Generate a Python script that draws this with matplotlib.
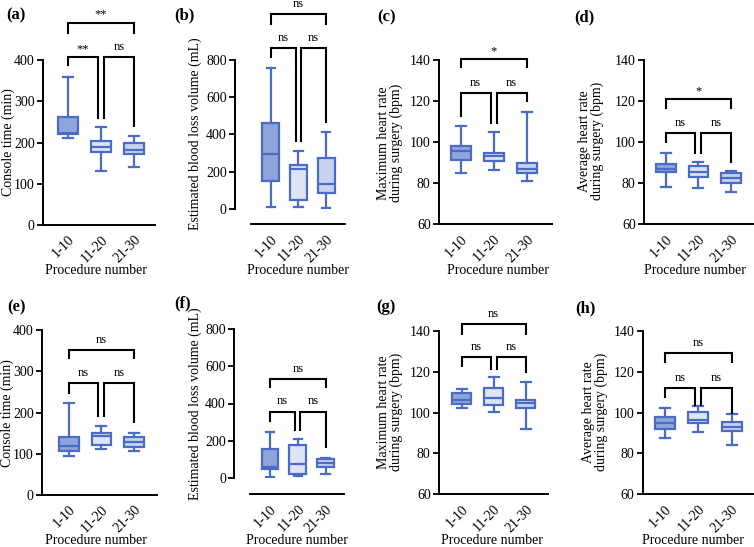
import numpy as np
import matplotlib
matplotlib.use("Agg")
import matplotlib.pyplot as plt

plt.rcParams['font.family'] = 'Liberation Serif'
plt.rcParams['font.size'] = 10

# categories
groups = ['1-10', '11-20', '21-30']

# box stats per group: [whisker low, Q1, median, Q3, whisker high]
console_a = [[210, 220, 224, 262, 360], [131, 178, 190, 204, 237], [140, 172, 183, 200, 216]]
ebl_b = [[9, 149, 294, 459, 758], [9, 45, 212, 235, 310], [5, 86, 131, 274, 412]]
maxhr_c = [[84.8, 91.1, 95.5, 98.0, 107.8], [86.4, 91.0, 93.2, 94.5, 104.8], [81.0, 85.1, 87.0, 90.0, 114.5]]
avghr_d = [[78.3, 85.6, 87.0, 89.3, 94.8], [77.5, 83.2, 85.6, 88.4, 90.2], [75.9, 80.2, 82.7, 84.8, 86.1]]
console_e = [[95, 107, 120, 140, 222], [111, 121, 143, 150, 167], [107, 116, 128, 140, 150]]
ebl_f = [[6, 45, 55, 155, 248], [8, 18, 75, 176, 207], [18, 56, 78, 99, 108]]
maxhr_g = [[102.0, 104.2, 106.1, 109.4, 111.5], [100.4, 103.7, 107.0, 111.8, 117.5], [91.9, 102.4, 104.5, 106.1, 115.1]]
avghr_h = [[87.7, 91.8, 94.7, 97.6, 102.4], [90.6, 94.7, 96.3, 100.4, 103.2], [84.1, 91.1, 93.1, 95.5, 99.3]]

# significance: (1 vs 2, 2 vs 3, 1 vs 3)
sig_a = ['**', 'ns', '**']
sig_b = ['ns', 'ns', 'ns']
sig_c = ['ns', 'ns', '*']
sig_d = ['ns', 'ns', '*']
sig_e = ['ns', 'ns', 'ns']
sig_f = ['ns', 'ns', 'ns']
sig_g = ['ns', 'ns', 'ns']
sig_h = ['ns', 'ns', 'ns']

# bracket heights: low line, top line, top legs end, [leg ends g1, g2, g3]
brk_a = (407, 490, 465, [388, 260, 240])
brk_b = (862, 1045, 991, [817, 364, 468])
brk_c = (123.7, 140.4, 136.7, [112.7, 109.4, 120])
brk_d = (104.3, 120.8, 116.4, [99.9, 94.8, 90.5])
brk_e = (271, 351.5, 331, [246.5, 192, 176])
brk_f = (356, 532, 487, [307, 257, 164])
brk_g = (127.3, 143.3, 138.4, [122.9, 121.1, 120])
brk_h = (112.1, 129, 124.5, [107.7, 103.7, 99.6])

edge = '#4a6cc4'
fills = ['#8ea4da', '#dde4f5', '#c7d3ef']

W, H = 754, 547
fig = plt.figure(figsize=(W / 100, H / 100), dpi=100)


def draw_panel(stats, sig, brk, ylims, step, lay, offset=None):
    # lay: y-axis px, first category px, px per category, right end px, top px, bottom px
    x0, c1, s, xr, ytop, ybot = lay
    ax = fig.add_axes([x0 / W, 1 - ybot / H, (xr - x0) / W, (ybot - ytop) / H])
    bxs = [dict(whislo=v[0], q1=v[1], med=v[2], q3=v[3], whishi=v[4], fliers=[]) for v in stats]
    lw = 1.6
    res = ax.bxp(bxs, positions=[1, 2, 3], widths=0.6, capwidths=0.3, patch_artist=True,
                 showfliers=False,
                 boxprops=dict(edgecolor=edge, linewidth=lw),
                 whiskerprops=dict(color=edge, linewidth=lw),
                 capprops=dict(color=edge, linewidth=lw),
                 medianprops=dict(color=edge, linewidth=lw))
    for patch, fc in zip(res['boxes'], fills):
        patch.set_facecolor(fc)

    xlim = (1 - (c1 - x0) / s, 1 + (xr - c1) / s)
    for sp in ['top', 'right']:
        ax.spines[sp].set_visible(False)
    for sp in ['left', 'bottom']:
        ax.spines[sp].set_linewidth(1.4)
    if offset is not None:
        # detached x axis
        ax.spines['bottom'].set_position(('outward', offset))
        ax.spines['bottom'].set_bounds(1 - (c1 - (x0 + 16)) / s, xlim[1])

    ax.set_xlim(*xlim)
    ax.set_ylim(*ylims)
    ax.set_yticks(np.arange(ylims[0], ylims[1] + 1, step))
    ax.set_xticks([1, 2, 3])
    ax.set_xticklabels(groups, rotation=45, ha='right', rotation_mode='anchor')
    ax.tick_params(axis='x', length=0, pad=6, labelsize=10)
    ax.tick_params(axis='y', length=4, width=1.3, labelsize=10, pad=2)

    # significance brackets
    low, top, top_end, ends = brk
    dx = 0.09
    kw = dict(color='black', lw=1.5, clip_on=False, solid_joinstyle='miter')
    ax.plot([1, 1, 2 - dx, 2 - dx], [ends[0], low, low, ends[1]], **kw)
    ax.plot([2 + dx, 2 + dx, 3, 3], [ends[1], low, low, ends[2]], **kw)
    ax.plot([1, 1, 3, 3], [top_end, top, top, top_end], **kw)
    for xm, yl, lab in [((1 + 2 - dx) / 2, low, sig[0]), ((2 + dx + 3) / 2, low, sig[1]), (2, top, sig[2])]:
        off = 3 if lab == 'ns' else 1.5
        ax.annotate(lab, (xm, yl), xytext=(0, off), textcoords='offset points',
                    ha='center', va='bottom', fontsize=9, annotation_clip=False)
    return ax


# layout in pixels
lay_a = (43, 68, 33, 155, 60, 225)
lay_b = (235, 270.7, 27.8, 345, 60, 208.7)
lay_c = (439, 460.7, 33, 552, 60, 224.3)
lay_d = (644, 665.7, 32.7, 753, 60, 224.3)
lay_e = (42, 68.7, 32.7, 156.7, 330, 495)
lay_f = (234.3, 270, 27.8, 344.3, 329.3, 477.7)
lay_g = (439, 461.7, 32, 548, 330.7, 494.3)
lay_h = (642.7, 665, 33.3, 753, 330.7, 494.3)

draw_panel(console_a, sig_a, brk_a, (0, 400), 100, lay_a)
draw_panel(ebl_b, sig_b, brk_b, (0, 800), 200, lay_b, offset=11.2)
draw_panel(maxhr_c, sig_c, brk_c, (60, 140), 20, lay_c)
draw_panel(avghr_d, sig_d, brk_d, (60, 140), 20, lay_d)
draw_panel(console_e, sig_e, brk_e, (0, 400), 100, lay_e)
draw_panel(ebl_f, sig_f, brk_f, (0, 800), 200, lay_f, offset=11.9)
draw_panel(maxhr_g, sig_g, brk_g, (60, 140), 20, lay_g)
draw_panel(avghr_h, sig_h, brk_h, (60, 140), 20, lay_h)


def ftext(x, y, s, **kw):
    fig.text(x / W, 1 - y / H, s, ha='center', va='center', **kw)


# panel tags
for x, y, t in [(16, 15, '(a)'), (184, 15, '(b)'), (387, 17, '(c)'), (584, 17, '(d)'),
                (16, 307, '(e)'), (183, 303, '(f)'), (386, 307, '(g)'), (585, 308, '(h)')]:
    ftext(x, y, t, fontsize=12, fontweight='bold')

# y labels
hr_max = 'Maximum heart rate\nduring surgery (bpm)'
hr_avg = 'Average heart rate\nduring surgery (bpm)'
for x, y, t in [(8, 142, 'Console time (min)'), (195, 134, 'Estimated blood loss volume (mL)'),
                (390, 143, hr_max), (591, 141, hr_avg),
                (7, 413, 'Console time (min)'), (195, 404, 'Estimated blood loss volume (mL)'),
                (390, 412, hr_max), (595, 412, hr_avg)]:
    ftext(x, y, t, rotation=90, fontsize=10, linespacing=1.0)

# x labels
for x, y in [(96, 270), (298, 270), (498, 270), (695, 270),
             (96, 540), (297, 540), (492, 540), (693, 540)]:
    ftext(x, y, 'Procedure number', fontsize=10)

fig.savefig('out.png', dpi=100)
